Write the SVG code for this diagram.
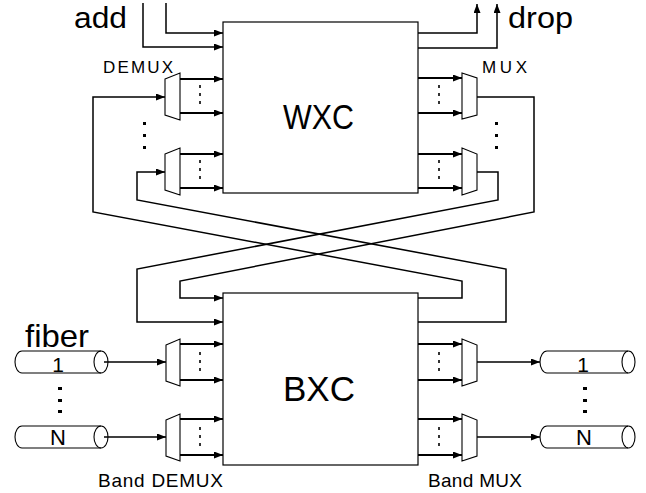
<svg xmlns="http://www.w3.org/2000/svg" width="646" height="493" viewBox="0 0 646 493">
<style>
text{font-family:"Liberation Sans",Arial,sans-serif;fill:#000}
.box{fill:#fff;stroke:#000;stroke-width:1.2}
.mx{fill:#fff;stroke:#000;stroke-width:1.1}
.c{fill:none;stroke:#000;stroke-width:1.5}
.a{fill:none;stroke:#000;stroke-width:2;marker-end:url(#ah)}
.ac{fill:none;stroke:#000;stroke-width:1.5;marker-end:url(#ah)}
.dd{stroke:#000;stroke-width:1.6;stroke-dasharray:3 5}
.cyl{fill:none;stroke:#000;stroke-width:1.1}
</style>
<defs>
<marker id="ah" markerUnits="userSpaceOnUse" markerWidth="10" markerHeight="8" refX="9" refY="3.5" orient="auto">
<path d="M0,0 L9,3.5 L0,7 z" fill="#000"/>
</marker>
</defs>
<rect width="646" height="493" fill="#fff"/>

<g id="connectors">
<polyline class="ac" points="166,3 166,33 223,33"/>
<polyline class="ac" points="143,3 143,47 223,47"/>
<polyline class="ac" points="418,33 477,33 477,4"/>
<polyline class="ac" points="418,48 497,48 497,4"/>
<polyline class="ac" points="418,298 462,298 462,281 93,212 93,97 165,97"/>
<polyline class="ac" points="418,322 506,322 506,269 137,200 137,172 165,172"/>
<polyline class="ac" points="477,97 534,97 534,212 180,281 180,298 223,298"/>
<polyline class="ac" points="477,172 498,172 498,200 137,269 137,322 223,322"/>
<line class="a" x1="180" y1="79" x2="223" y2="79"/>
<line class="a" x1="180" y1="113" x2="223" y2="113"/>
<line class="a" x1="180" y1="154" x2="223" y2="154"/>
<line class="a" x1="180" y1="188" x2="223" y2="188"/>
<line class="a" x1="418" y1="78" x2="462" y2="78"/>
<line class="a" x1="418" y1="113" x2="462" y2="113"/>
<line class="a" x1="418" y1="154" x2="462" y2="154"/>
<line class="a" x1="418" y1="188" x2="462" y2="188"/>
<line class="a" x1="180" y1="344" x2="223" y2="344"/>
<line class="a" x1="180" y1="380" x2="223" y2="380"/>
<line class="a" x1="180" y1="419" x2="223" y2="419"/>
<line class="a" x1="180" y1="455" x2="223" y2="455"/>
<line class="a" x1="418" y1="344" x2="462" y2="344"/>
<line class="a" x1="418" y1="380" x2="462" y2="380"/>
<line class="a" x1="418" y1="419" x2="462" y2="419"/>
<line class="a" x1="418" y1="455" x2="462" y2="455"/>
<line class="ac" x1="104" y1="362" x2="166" y2="362"/>
<line class="ac" x1="104" y1="437" x2="166" y2="437"/>
<line class="ac" x1="477" y1="362" x2="540" y2="362"/>
<line class="ac" x1="477" y1="437" x2="540" y2="437"/>
</g>

<g id="wxc">
<rect class="box" x="223" y="22" width="195" height="171"/>
<text x="318.5" y="129" font-size="35" text-anchor="middle" textLength="71" lengthAdjust="spacingAndGlyphs">WXC</text>
</g>
<g id="bxc">
<rect class="box" x="223" y="293" width="195" height="172"/>
<text x="319" y="401" font-size="35" text-anchor="middle" textLength="72" lengthAdjust="spacingAndGlyphs">BXC</text>
</g>

<g id="demux1">
<polygon class="mx" points="165,79 180,73 180,120 165,115"/>
<line class="dd" x1="200" y1="85" x2="200" y2="106"/>
</g>
<g id="demux2">
<polygon class="mx" points="165,154 180,148 180,195 165,190"/>
<line class="dd" x1="200" y1="160" x2="200" y2="181"/>
</g>
<g id="mux1">
<polygon class="mx" points="462,73 477,78 477,115 462,119"/>
<line class="dd" x1="439" y1="85" x2="439" y2="106"/>
</g>
<g id="mux2">
<polygon class="mx" points="462,148 477,154 477,190 462,195"/>
<line class="dd" x1="439" y1="160" x2="439" y2="181"/>
</g>
<g id="banddemux1">
<polygon class="mx" points="166,345 180,339 180,386 166,381"/>
<line class="dd" x1="200" y1="352" x2="200" y2="373"/>
</g>
<g id="banddemux2">
<polygon class="mx" points="166,420 180,414 180,461 166,456"/>
<line class="dd" x1="200" y1="427" x2="200" y2="448"/>
</g>
<g id="bandmux1">
<polygon class="mx" points="462,339 477,345 477,381 462,386"/>
<line class="dd" x1="439" y1="352" x2="439" y2="373"/>
</g>
<g id="bandmux2">
<polygon class="mx" points="462,414 477,420 477,456 462,461"/>
<line class="dd" x1="439" y1="427" x2="439" y2="448"/>
</g>

<g id="fiber-in-1">
<path class="cyl" d="M22,351 L101,351 M22,373 L101,373 M22,351 A7,11 0 0 0 22,373"/>
<ellipse class="cyl" cx="101" cy="362" rx="7" ry="11"/>
<text x="58" y="372" font-size="21" text-anchor="middle">1</text>
</g>
<g id="fiber-in-n">
<path class="cyl" d="M22,426 L101,426 M22,448 L101,448 M22,426 A7,11 0 0 0 22,448"/>
<ellipse class="cyl" cx="101" cy="437" rx="7" ry="11"/>
<text x="58" y="445" font-size="22" text-anchor="middle">N</text>
</g>
<g id="fiber-out-1">
<path class="cyl" d="M547,351 L628,351 M547,373 L628,373 M547,351 A7,11 0 0 0 547,373"/>
<ellipse class="cyl" cx="628.5" cy="362" rx="6.5" ry="11"/>
<text x="583" y="372" font-size="21" text-anchor="middle">1</text>
</g>
<g id="fiber-out-n">
<path class="cyl" d="M547,426 L628,426 M547,448 L628,448 M547,426 A7,11 0 0 0 547,448"/>
<ellipse class="cyl" cx="628.5" cy="437" rx="6.5" ry="11"/>
<text x="584" y="445" font-size="22" text-anchor="middle">N</text>
</g>

<g id="dots">
<rect x="143" y="122" width="3" height="3"/>
<rect x="143" y="134" width="3" height="3"/>
<rect x="143" y="146" width="3" height="3"/>
<rect x="495" y="122" width="3" height="3"/>
<rect x="495" y="134" width="3" height="3"/>
<rect x="495" y="146" width="3" height="3"/>
<rect x="58" y="387" width="4" height="3"/>
<rect x="58" y="399" width="4" height="3"/>
<rect x="58" y="410" width="4" height="3"/>
<rect x="583" y="387" width="4" height="3"/>
<rect x="583" y="399" width="4" height="3"/>
<rect x="583" y="410" width="4" height="3"/>
</g>

<g id="labels">
<text x="74" y="28" font-size="30" textLength="53" lengthAdjust="spacingAndGlyphs">add</text>
<text x="508" y="28" font-size="30" textLength="65" lengthAdjust="spacingAndGlyphs">drop</text>
<text x="25" y="347" font-size="32" textLength="64" lengthAdjust="spacingAndGlyphs">fiber</text>
<text x="103" y="73" font-size="17" textLength="70" lengthAdjust="spacing">DEMUX</text>
<text x="482" y="73" font-size="17" textLength="45" lengthAdjust="spacing">MUX</text>
<text x="98" y="487" font-size="19" textLength="125" lengthAdjust="spacing">Band DEMUX</text>
<text x="428" y="487" font-size="19" textLength="94" lengthAdjust="spacing">Band MUX</text>
</g>
</svg>
